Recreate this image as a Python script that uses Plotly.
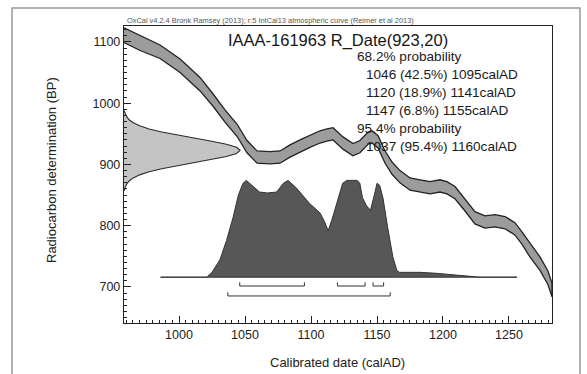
import plotly.graph_objects as go

# ---------------- data ----------------
# IntCal13 calibration curve (centre, BP) and its 1-sigma half width
CURVE_YEAR = [958.3, 970.5, 985.6, 1000.8, 1015.9, 1025.8, 1034.8, 1043.9, 1051.5, 1059.1,
              1068.9, 1076.5, 1084.1, 1091.7, 1099.2, 1106.8, 1112.1, 1116.7, 1124.2, 1131.8,
              1137.1, 1143.2, 1146.2, 1150.8, 1156.1, 1161.4, 1167.4, 1175.0, 1182.6, 1190.2,
              1197.7, 1203.0, 1209.1, 1216.7, 1224.2, 1231.8, 1239.4, 1247.0, 1254.5, 1259.8,
              1265.9, 1273.5, 1279.5, 1282.6]
CURVE_BP = [1111, 1098, 1084, 1061, 1031, 1005, 979, 956, 929, 912,
            911, 912, 922, 930, 938, 945, 948, 950, 935, 924,
            929, 943, 945, 937, 912, 894, 880, 868, 865, 862,
            865, 862, 854, 834, 813, 806, 808, 805, 795, 780,
            760, 738, 715, 695]
CURVE_SIGMA = [12, 12, 11, 11, 11, 10, 10, 10, 10, 10,
               10, 10, 10, 10, 10, 10, 10, 10, 10, 10,
               10, 10, 10, 10, 10, 10, 10, 10, 10, 10,
               10, 10, 10, 10, 10, 10, 10, 10, 10, 10,
               11, 11, 11, 11]

# Radiocarbon measurement R_Date(923,20), drawn on the y axis
GAUSS_BP = [858, 863, 868, 873, 878, 883, 888, 893, 898, 903, 908, 913, 918, 923,
            928, 933, 938, 943, 948, 953, 958, 963, 968, 973, 978, 983, 988]
GAUSS_REL = [0.005, 0.011, 0.023, 0.044, 0.080, 0.135, 0.216, 0.325, 0.458, 0.607, 0.755, 0.882, 0.969, 1.0,
             0.969, 0.882, 0.755, 0.607, 0.458, 0.325, 0.216, 0.135, 0.080, 0.044, 0.023, 0.011, 0.005]

# Calibrated (posterior) probability distribution, relative height
POST_YEAR = [986, 1010, 1021, 1025, 1031, 1036, 1041, 1045, 1048.5, 1051, 1055, 1061, 1067, 1074,
             1079, 1082.6, 1089, 1094, 1099, 1104, 1107, 1110, 1113, 1116, 1120, 1124, 1127, 1135,
             1137, 1139, 1142, 1145, 1148, 1150, 1152, 1154.5, 1158, 1162, 1165, 1167, 1175,
             1182.6, 1195, 1203, 1215, 1228, 1256]
POST_REL = [0, 0, 0, 0.05, 0.18, 0.38, 0.62, 0.85, 0.97, 1.0, 0.95, 0.88, 0.87, 0.88,
            0.97, 1.0, 0.92, 0.84, 0.76, 0.70, 0.66, 0.58, 0.48, 0.60, 0.79, 0.97, 1.0, 1.0,
            0.97, 0.82, 0.74, 0.69, 0.85, 0.97, 0.95, 0.82, 0.52, 0.21, 0.07, 0.05, 0.05,
            0.05, 0.04, 0.03, 0.01, 0.0, 0.0]

RANGES_68 = [(1046, 1095), (1120, 1141), (1147, 1155)]
RANGES_95 = [(1037, 1160)]

TITLE = "IAAA-161963 R_Date(923,20)"
CREDIT = "OxCal v4.2.4 Bronk Ramsey (2013); r:5 IntCal13 atmospheric curve (Reimer et al 2013)"
TEXT_HEAD = ["68.2% probability", "1046 (42.5%) 1095calAD", "1120 (18.9%) 1141calAD",
             "1147 (6.8%) 1155calAD", "95.4% probability", "1037 (95.4%) 1160calAD"]
X_TICKS = [1000, 1050, 1100, 1150, 1200, 1250]
Y_TICKS = [700, 800, 900, 1000, 1100]

# ---------------- layout constants ----------------
W, H = 587, 374
L, R, T, B = 124, 35, 26, 51
X_RANGE = [958.3, 1282.6]
Y_RANGE = [641.2, 1126.0]
POST_BASE, POST_HEIGHT = 716.0, 158.0
GAUSS_WIDTH = 88.0
LVL_68, LVL_95, TICK_H = 701.6, 685.3, 6.0
FONT = "Liberation Sans, Arial, sans-serif"

PW, PH = W - L - R, H - T - B


def px(x):
    return (x - L) / PW


def py(y):
    return (H - B - y) / PH


fig = go.Figure()

# measurement gaussian on y axis
gx = [X_RANGE[0] + r * GAUSS_WIDTH for r in GAUSS_REL]
fig.add_trace(go.Scatter(x=[X_RANGE[0]] + gx + [X_RANGE[0]],
                         y=[GAUSS_BP[0]] + GAUSS_BP + [GAUSS_BP[-1]],
                         fill="toself", fillcolor="#c4c4c4", mode="lines",
                         line=dict(color="#2b2b2b", width=1.1), hoverinfo="skip"))

# calibration band
upper = [c + s for c, s in zip(CURVE_BP, CURVE_SIGMA)]
lower = [c - s for c, s in zip(CURVE_BP, CURVE_SIGMA)]
fig.add_trace(go.Scatter(x=CURVE_YEAR + CURVE_YEAR[::-1], y=upper + lower[::-1],
                         fill="toself", fillcolor="#9c9c9c", mode="lines",
                         line=dict(color="#222222", width=1.3), hoverinfo="skip"))

# posterior
py_post = [POST_BASE + r * POST_HEIGHT for r in POST_REL]
fig.add_trace(go.Scatter(x=POST_YEAR + [POST_YEAR[-1], POST_YEAR[0]],
                         y=py_post + [POST_BASE, POST_BASE],
                         fill="toself", fillcolor="#575757", mode="lines",
                         line=dict(color="#333333", width=1.0), hoverinfo="skip"))

# range brackets
for ranges, lvl in ((RANGES_68, LVL_68), (RANGES_95, LVL_95)):
    for a, b in ranges:
        fig.add_trace(go.Scatter(x=[a, a, b, b], y=[lvl + TICK_H, lvl, lvl, lvl + TICK_H],
                                 mode="lines", line=dict(color="#333333", width=1.0),
                                 hoverinfo="skip"))

ann = []
ann.append(dict(text=TITLE, x=px(338), y=py(40), xref="paper", yref="paper",
                showarrow=False, xanchor="center", yanchor="middle",
                font=dict(family=FONT, size=16.5, color="#151515")))
ann.append(dict(text=CREDIT, x=px(125), y=py(20), xref="paper", yref="paper",
                showarrow=False, xanchor="left", yanchor="middle",
                font=dict(family=FONT, size=7.4, color="#555555")))
for i, t in enumerate(TEXT_HEAD):
    left = 355 if "probability" in t else 364
    ann.append(dict(text=t, x=px(left), y=py(56 + 18 * i), xref="paper", yref="paper",
                    showarrow=False, xanchor="left", yanchor="middle",
                    font=dict(family=FONT, size=13.6, color="#1a1a1a")))
ann.append(dict(text="Radiocarbon determination (BP)", x=px(51), y=py(170), xref="paper",
                yref="paper", showarrow=False, textangle=-90, xanchor="center",
                yanchor="middle", font=dict(family=FONT, size=13, color="#222222")))
ann.append(dict(text="Calibrated date (calAD)", x=px(337), y=py(362), xref="paper",
                yref="paper", showarrow=False, xanchor="center", yanchor="middle",
                font=dict(family=FONT, size=13, color="#222222")))

shapes = [dict(type="rect", xref="paper", yref="paper", x0=px(12), x1=px(580),
               y0=py(390), y1=py(8), line=dict(color="#9a9a9a", width=1.5),
               fillcolor="rgba(0,0,0,0)", layer="below")]

axis_common = dict(showgrid=False, zeroline=False, showline=True, mirror=True,
                   linecolor="#222222", linewidth=1.2, ticks="inside", ticklen=7,
                   tickcolor="#222222", tickwidth=1,
                   tickfont=dict(family=FONT, size=12.5, color="#222222"))

fig.update_layout(
    width=W, height=H, autosize=False,
    margin=dict(l=L, r=R, t=T, b=B, pad=0),
    paper_bgcolor="white", plot_bgcolor="white",
    showlegend=False,
    annotations=ann, shapes=shapes,
    xaxis=dict(range=X_RANGE, tickvals=X_TICKS, **axis_common,
               minor=dict(dtick=5, tick0=1000, ticks="inside", ticklen=3,
                          tickcolor="#222222", showgrid=False)),
    yaxis=dict(range=Y_RANGE, tickvals=Y_TICKS, **axis_common,
               minor=dict(dtick=10, tick0=700, ticks="inside", ticklen=3,
                          tickcolor="#222222", showgrid=False)),
)

fig.write_html("out.html", config={"displayModeBar": False, "staticPlot": True},
               post_script="document.body.style.margin='0';document.body.style.overflow='hidden';")
